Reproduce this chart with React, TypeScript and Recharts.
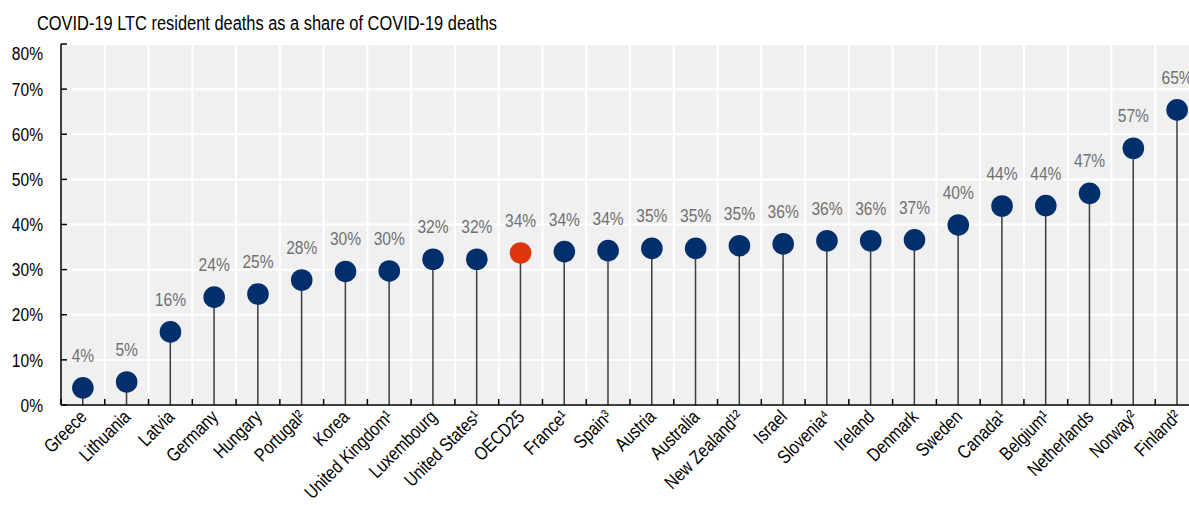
import { ComposedChart, Bar, Line, XAxis, YAxis, CartesianGrid, LabelList } from "recharts";

const countries = [
  "Greece", "Lithuania", "Latvia", "Germany", "Hungary", "Portugal²", "Korea",
  "United Kingdom¹", "Luxembourg", "United States¹", "OECD25", "France¹", "Spain³",
  "Austria", "Australia", "New Zealand¹²", "Israel", "Slovenia⁴", "Ireland",
  "Denmark", "Sweden", "Canada¹", "Belgium¹", "Netherlands", "Norway²", "Finland²",
];

const shares = [
  3.8, 5.1, 16.2, 23.9, 24.6, 27.7, 29.6, 29.7, 32.3, 32.3, 33.7, 34.0, 34.2,
  34.7, 34.7, 35.3, 35.7, 36.4, 36.4, 36.6, 39.9, 44.1, 44.2, 46.9, 56.9, 65.4,
];

const yTicks = [0, 10, 20, 30, 40, 50, 60, 70, 80];

const highlight = "OECD25";

const data = countries.map((name, i) => ({ name, value: shares[i] }));

const NAVY = "#002f6c";
const RED = "#dc3510";
const FONT = "'Liberation Sans', Arial, sans-serif";
// no narrow font installed, so squeeze the regular one
const NARROW = 0.82;

function XTick(props: any) {
  const { x, y, payload, width } = props;
  const band = (width || 1138) / countries.length;
  const ax = x + 5;
  const ay = y + 13;
  return (
    <g>
      <line x1={x - band / 2} x2={x - band / 2} y1={y} y2={y - 6} stroke="#000" strokeWidth={1.5} />
      <text
        transform={`translate(${ax}, ${ay}) rotate(-45) scale(${NARROW}, 1)`}
        textAnchor="end"
        fontSize={19}
        fill="#000"
        fontFamily={FONT}
      >
        {payload.value}
      </text>
    </g>
  );
}

function YTick(props: any) {
  const { x, y, payload } = props;
  const shift = payload.value === 80 ? 9 : 0;
  return (
    <g>
      <line x1={x + 18} x2={x + 24} y1={y} y2={y} stroke="#000" strokeWidth={1.5} />
      <text
        transform={`translate(${x}, ${y + shift}) scale(${NARROW}, 1)`}
        dy="0.35em"
        textAnchor="end"
        fontSize={19}
        fill="#000"
        fontFamily={FONT}
      >
        {payload.value}%
      </text>
    </g>
  );
}

function Dot(props: any) {
  const { cx, cy, payload, index } = props;
  return (
    <circle key={index} cx={cx} cy={cy} r={10.8} fill={payload.name === highlight ? RED : NAVY} />
  );
}

function ValueLabel(props: any) {
  const { x, y, value } = props;
  return (
    <text
      transform={`translate(${x}, ${y - 26}) scale(${NARROW}, 1)`}
      textAnchor="middle"
      fontSize={19}
      fill="#707070"
      fontFamily={FONT}
    >
      {Math.round(value)}%
    </text>
  );
}

function App() {
  return (
    <div
      style={{
        position: "absolute",
        left: 0,
        top: 0,
        width: 1189,
        height: 505,
        overflow: "hidden",
        background: "#fff",
        fontFamily: FONT,
      }}
    >
      <div
        style={{
          position: "absolute",
          left: 37,
          top: 14,
          fontSize: 20,
          lineHeight: "19px",
          color: "#000",
          whiteSpace: "nowrap",
          transform: `scaleX(${NARROW})`,
          transformOrigin: "left top",
        }}
      >
        COVID-19 LTC resident deaths as a share of COVID-19 deaths
      </div>
      <ComposedChart
        width={1200}
        height={505}
        data={data}
        margin={{ top: 44, right: 1, bottom: 0, left: 0 }}
        barCategoryGap={0}
      >
        <CartesianGrid
          fill="#f0f0f0"
          stroke="#fff"
          strokeWidth={2}
          verticalCoordinatesGenerator={({ offset }: any) =>
            countries.slice(1).map((_, i) => offset.left + ((i + 1) * offset.width) / countries.length)
          }
        />
        <XAxis
          dataKey="name"
          interval={0}
          height={100}
          tickSize={0}
          tickMargin={0}
          tickLine={false}
          axisLine={{ stroke: "#000", strokeWidth: 1.5 }}
          tick={<XTick />}
        />
        <YAxis
          domain={[0, 80]}
          ticks={yTicks}
          width={61}
          tickSize={0}
          tickMargin={18}
          tickLine={false}
          axisLine={{ stroke: "#000", strokeWidth: 1.5 }}
          tick={<YTick />}
        />
        <Bar dataKey="value" barSize={1.5} fill="#3c3c3c" isAnimationActive={false} />
        <Line
          dataKey="value"
          stroke="none"
          dot={Dot}
          activeDot={false}
          isAnimationActive={false}
        >
          <LabelList dataKey="value" content={ValueLabel} />
        </Line>
      </ComposedChart>
    </div>
  );
}

export default App;
